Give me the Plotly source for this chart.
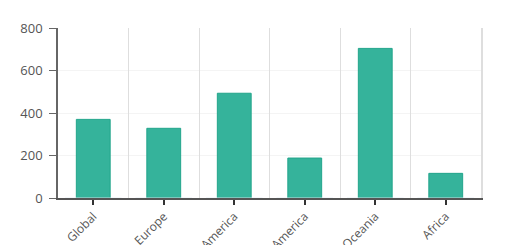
import plotly.graph_objects as go

categories = ["Global", "Europe", "North America", "South America", "Oceania", "Africa"]
values = [370, 328, 493, 188, 704, 116]
y_ticks = [0, 200, 400, 600, 800]

fig = go.Figure()
fig.add_trace(go.Bar(
    x=categories, y=values,
    marker=dict(color="#35b39b", line=dict(color="#22a58b", width=1)),
    width=0.48,
))
# invisible helper trace on overlay axes for boundary grid lines and right frame
fig.add_trace(go.Bar(x=categories, y=[0]*len(categories), xaxis="x2", yaxis="y2",
                     showlegend=False, marker=dict(color="rgba(0,0,0,0)"), hoverinfo="skip"))

fig.update_layout(
    width=520, height=245,
    margin=dict(l=58, r=39, t=28, b=47, autoexpand=False),
    paper_bgcolor="white", plot_bgcolor="white",
    showlegend=False,
    font=dict(family="Open Sans, sans-serif", size=13, color="#555"),
    xaxis=dict(
        type="category", categoryarray=categories, categoryorder="array",
        showgrid=False, showline=True, linecolor="#555", linewidth=1.5,
        ticks="outside", ticklen=5, tickcolor="#333", tickwidth=1.5,
        tickangle=-45, automargin=False, zeroline=False,
        tickfont=dict(size=12, color="#555"),
    ),
    xaxis2=dict(
        type="category", categoryarray=categories, categoryorder="array",
        overlaying="x", matches="x", tickson="boundaries", showgrid=True,
        gridcolor="#dedede", gridwidth=1, showticklabels=False, ticks="",
        showline=False, zeroline=False, layer="below traces",
    ),
    yaxis=dict(
        range=[0, 800], tickvals=y_ticks, showgrid=True, gridcolor="#f4f4f4",
        showline=True, linecolor="#666", linewidth=1.5,
        ticks="outside", ticklen=7, tickcolor="#666",
        ticklabelstandoff=4,
        zeroline=False, automargin=False,
        tickfont=dict(size=13, color="#555"),
    ),
    yaxis2=dict(
        overlaying="y", matches="y", side="right", showgrid=False,
        showline=True, linecolor="#dedede", linewidth=1.5,
        showticklabels=False, ticks="", zeroline=False,
    ),
)
fig.write_html("out.html")
